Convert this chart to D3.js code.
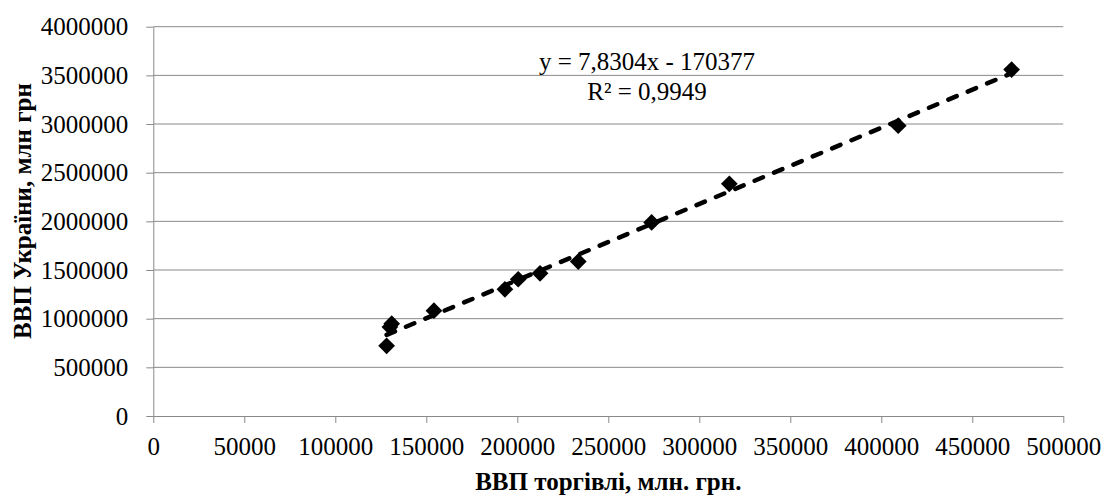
<!DOCTYPE html>
<html lang="uk">
<head>
  <meta charset="UTF-8" />
  <title>ВВП торгівлі та ВВП України</title>
  <script src="https://d3js.org/d3.v7.min.js"></script>
  <style>
    body { margin: 0; background: #fff; }
    .grid line { stroke: #898989; stroke-width: 1; }
    .axis path, .axis line { stroke: #898989; stroke-width: 1; }
    .trend { fill: none; stroke: #000; stroke-width: 4.5px; stroke-dasharray: 9 12; stroke-linecap: round; }
  </style>
</head>
<body>
  <svg width="1104" height="495"></svg>

  <script>
    // ВВП торгівлі (x) і ВВП України (y), млн грн
    const tradeGdp = [128200, 131000, 130000, 154200, 193200, 200500, 212500, 233500, 273800, 316500, 409300, 471600];
    const ukraineGdp = [720700, 948000, 913300, 1082500, 1302000, 1405000, 1466000, 1587000, 1989000, 2385400, 2983000, 3559000];

    const xTicks = [0, 50000, 100000, 150000, 200000, 250000, 300000, 350000, 400000, 450000, 500000];
    const yTicks = [0, 500000, 1000000, 1500000, 2000000, 2500000, 3000000, 3500000, 4000000];

    // linear trend as printed on the chart
    const trendSlope = 7.8304, trendIntercept = -170377;
    const trendText = ["y = 7,8304x - 170377", "R² = 0,9949"];

    const xTitle = "ВВП торгівлі, млн. грн.";
    const yTitle = "ВВП України, млн грн";

    const font = '"Liberation Serif", "Times New Roman", serif';

    const margin = { top: 26.7, right: 40.7, bottom: 79, left: 153.3 },
          width = 1104 - margin.left - margin.right,
          height = 495 - margin.top - margin.bottom;

    const svg = d3.select("svg");
    const g = svg.append("g")
      .attr("transform", `translate(${margin.left},${margin.top})`);

    const x = d3.scaleLinear().domain([0, 500000]).range([0, width]);
    const y = d3.scaleLinear().domain([0, 4000000]).range([height, 0]);

    // horizontal gridlines
    g.append("g")
      .attr("class", "grid")
      .selectAll("line")
      .data(yTicks.slice(1))
      .join("line")
      .attr("x1", 0)
      .attr("x2", width)
      .attr("y1", d => y(d))
      .attr("y2", d => y(d));

    const xAxis = g.append("g")
      .attr("class", "axis")
      .attr("transform", `translate(0,${height})`)
      .call(d3.axisBottom(x).tickValues(xTicks).tickSize(7).tickSizeOuter(0).tickFormat(d3.format("d")));
    xAxis.selectAll("text").attr("dy", null).attr("y", 39);

    const yAxis = g.append("g")
      .attr("class", "axis")
      .call(d3.axisLeft(y).tickValues(yTicks).tickSize(7).tickSizeOuter(0).tickPadding(18).tickFormat(d3.format("d")));

    // trendline over the data range
    const xExt = d3.extent(tradeGdp);
    const trendPts = xExt.map(v => [v, trendSlope * v + trendIntercept]);
    g.append("path")
      .datum(trendPts)
      .attr("class", "trend")
      .attr("d", d3.line().x(d => x(d[0])).y(d => y(d[1])));

    // diamond markers
    const diamond = d3.symbol().type(d3.symbolSquare).size(140);
    g.append("g")
      .selectAll("path")
      .data(tradeGdp.map((v, i) => [v, ukraineGdp[i]]))
      .join("path")
      .attr("d", diamond)
      .attr("fill", "#000")
      .attr("transform", d => `translate(${x(d[0])},${y(d[1])}) rotate(45)`);

    // equation label
    g.append("g")
      .selectAll("text")
      .data(trendText)
      .join("text")
      .attr("text-anchor", "middle")
      .attr("x", 647 - margin.left)
      .attr("y", (d, i) => 70 - margin.top + i * 30)
      .text(d => d);

    // axis titles
    svg.append("text")
      .attr("class", "title")
      .attr("text-anchor", "middle")
      .attr("x", margin.left + width / 2)
      .attr("y", 490)
      .text(xTitle);

    svg.append("text")
      .attr("class", "title")
      .attr("text-anchor", "middle")
      .attr("transform", "translate(31,211) rotate(-90)")
      .text(yTitle);

    svg.selectAll("text")
      .style("font-family", font)
      .style("font-size", "25px")
      .style("fill", "#000");
    svg.selectAll("text.title").style("font-weight", "bold");
  </script>
</body>
</html>
